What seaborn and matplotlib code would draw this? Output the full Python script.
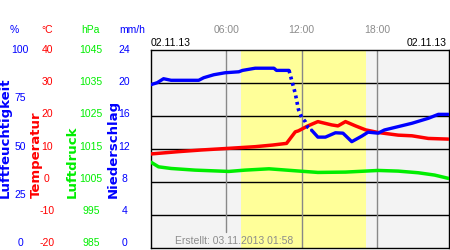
import matplotlib
matplotlib.use("Agg")
import matplotlib.pyplot as plt
import matplotlib.transforms as mtransforms
import seaborn as sns
import pandas as pd

sns.set_theme(style="white")
plt.rcParams['font.family'] = ['Liberation Sans', 'DejaVu Sans']

# ---- data ----
hum_t = [0.0, 0.5, 1.0, 1.6, 2.5, 3.8, 4.2, 5.0, 5.9, 7.0, 7.3, 8.3, 9.8, 10.0, 11.0,
         11.2, 11.5, 11.75, 12.0, 12.3, 12.5, 12.8, 13.3, 13.9, 14.7, 15.3, 16.0, 16.8,
         17.3, 18.1, 18.6, 19.7, 20.8, 22.1, 22.9, 23.7]
hum_v = [82.5, 83.5, 85.5, 84.7, 84.7, 84.7, 86.0, 87.5, 88.5, 89.0, 89.7, 90.8, 90.8, 89.7, 89.7,
         85.0, 78.0, 70.0, 66.0, 63.8, 61.0, 59.5, 56.0, 56.0, 58.2, 58.0, 53.7, 56.5,
         58.5, 58.0, 59.6, 61.3, 63.0, 65.5, 67.5, 67.5]

temp_t = [0.0, 2.2, 4.0, 6.2, 8.3, 9.7, 10.8, 11.1, 11.5, 11.75, 12.5, 13.3, 14.4, 14.9,
          15.5, 16.3, 17.1, 18.1, 19.7, 20.8, 22.1, 23.7]
temp_v = [8.5, 9.2, 9.7, 10.2, 10.7, 11.2, 11.7, 13.2, 15.2, 15.5, 17.0, 18.3, 17.3, 17.0,
          18.3, 17.0, 15.8, 15.0, 14.2, 14.0, 13.2, 13.0]

pres_t = [0.0, 0.6, 1.6, 3.5, 6.2, 7.5, 9.4, 11.5, 13.3, 15.5, 18.1, 19.7, 21.3, 22.6, 23.7]
pres_v = [1011.0, 1009.6, 1009.1, 1008.6, 1008.2, 1008.6, 1009.0, 1008.4, 1007.9, 1008.0,
          1008.5, 1008.3, 1007.8, 1007.1, 1006.1]

hum_ticks = [100, 75, 50, 25, 0]
temp_ticks = [40, 30, 20, 10, 0, -10, -20]
pres_ticks = [1045, 1035, 1025, 1015, 1005, 995, 985]
rain_ticks = [24, 20, 16, 12, 8, 4, 0]
time_ticks = [6, 12, 18]
time_labels = ["06:00", "12:00", "18:00"]
daylight = (7.15, 17.1)
date_label = "02.11.13"
created = "Erstellt: 03.11.2013 01:58"

# ---- figure ----
W, H = 450, 250
fig = plt.figure(figsize=(4.5, 2.5), dpi=100)
left, right, top, bottom = 151 / W, 449 / W, 1 - 50 / H, 1 - 248 / H
ax = fig.add_axes([left, bottom, right - left, top - bottom])
ax.set_facecolor("#f3f3f3")
ax.set_xlim(0, 23.75)
ax.set_ylim(-20, 40)
ax_h = ax.twinx()
ax_h.set_ylim(0, 100)
ax_p = ax.twinx()
ax_p.set_ylim(985, 1045)
for s in ax.spines.values():
    s.set_color("black")
    s.set_linewidth(1.0)
for a in (ax_h, ax_p):
    for s in a.spines.values():
        s.set_visible(False)

ax.axvspan(daylight[0], daylight[1], color="#ffff99", zorder=0, lw=0)
for yv in temp_ticks[1:-1]:
    ax.axhline(yv, color="black", lw=1.0, zorder=1)
for i, tv in enumerate(time_ticks):
    ymin = (248 - 232) / 198 if i == 0 else 0
    ax.axvline(tv, ymin=ymin, color="#888888", lw=1.0, zorder=1)

df_h = pd.DataFrame({"t": hum_t, "v": hum_v})
df_t = pd.DataFrame({"t": temp_t, "v": temp_v})
df_p = pd.DataFrame({"t": pres_t, "v": pres_v})

sns.lineplot(data=df_p, x="t", y="v", ax=ax_p, color="#00ee00", lw=2.5, legend=False)
sns.lineplot(data=df_t, x="t", y="v", ax=ax, color="#ff0000", lw=2.5, legend=False, zorder=3)
solid1 = df_h[df_h.t <= 11.0]
drop = df_h[(df_h.t >= 11.0) & (df_h.t <= 12.8)]
solid2 = df_h[df_h.t >= 12.8]
sns.lineplot(data=solid1, x="t", y="v", ax=ax_h, color="#0000ff", lw=2.4, legend=False)
sns.lineplot(data=drop, x="t", y="v", ax=ax_h, color="#0000ff", lw=2.6,
             linestyle=(0, (0.8, 1.0)), legend=False)
sns.lineplot(data=solid2, x="t", y="v", ax=ax_h, color="#0000ff", lw=2.4, legend=False)
for a in (ax, ax_h, ax_p):
    a.set_xlim(0, 23.75)
    a.set_xlabel("")
    a.set_ylabel("")
    a.set_xticks([])
    a.set_yticks([])

fs = 7.5
# left-side scale columns (label rows span pixel 50..243)
def col(ticks, xpix, color):
    vmax, vmin = max(ticks), min(ticks)
    for v in ticks:
        ypix = 50 + (vmax - v) / (vmax - vmin) * 193
        fig.text(xpix / W, 1 - ypix / H, str(v), ha="center", va="center",
                 color=color, fontsize=fs)

col(hum_ticks, 20, "#0000ff")
col(temp_ticks, 47, "#ff0000")
col(pres_ticks, 91, "#00ee00")
col(rain_ticks, 124.5, "#0000ff")

unit_y = 1 - 30 / H
fig.text(14 / W, unit_y, "%", color="#0000ff", fontsize=fs, ha="center", va="center")
fig.text(47 / W, unit_y, "°C", color="#ff0000", fontsize=fs, ha="center", va="center")
fig.text(90 / W, unit_y, "hPa", color="#00ee00", fontsize=fs, ha="center", va="center")
fig.text(132 / W, unit_y, "mm/h", color="#0000ff", fontsize=fs, ha="center", va="center")

lab_y = 1 - 198.5 / H
for xp, txt, c in [(5.5, "Luftfeuchtigkeit", "#0000ff"), (36, "Temperatur", "#ff0000"),
                   (72, "Luftdruck", "#00ee00"), (113.5, "Niederschlag", "#0000ff")]:
    fig.text(xp / W, lab_y, txt, color=c, fontsize=9.5, fontweight="bold",
             family=["DejaVu Sans"],
             rotation=90, rotation_mode="anchor", ha="left", va="center")

trx = mtransforms.blended_transform_factory(ax.transData, fig.transFigure)
for tv, tl in zip(time_ticks, time_labels):
    fig.text(tv, 1 - 30 / H, tl, transform=trx, ha="center", va="center",
             color="#8c8c8c", fontsize=fs)
fig.text(151 / W, 1 - 43 / H, date_label, ha="left", va="center", color="black", fontsize=fs)
fig.text(447 / W, 1 - 43 / H, date_label, ha="right", va="center", color="black", fontsize=fs)
fig.text(175 / W, 1 - 241 / H, created, ha="left", va="center", color="#8c8c8c", fontsize=fs)

fig.savefig("out.png", dpi=100)
